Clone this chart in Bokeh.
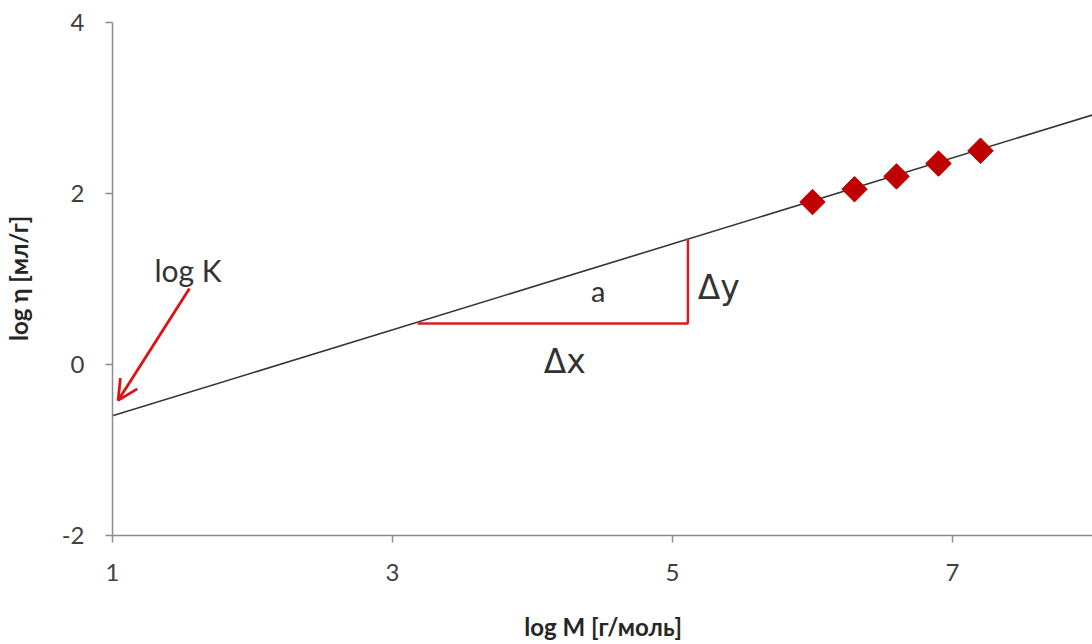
import math
from bokeh.plotting import figure
from bokeh.models import Range1d, Label, Arrow, OpenHead, FixedTicker
from bokeh.embed import file_html
from bokeh.resources import INLINE

# data
log_M = [6.0, 6.3, 6.6, 6.9, 7.2]
log_eta = [1.90, 2.05, 2.20, 2.35, 2.50]
fit_x = [1.0, 8.2]
fit_y = [-0.60, 3.02]
x_ticks = [1, 3, 5, 7]
y_ticks = [-2, 0, 2, 4]
tri_x = [3.18, 5.11, 5.11]
tri_y = [0.48, 0.48, 1.47]

p = figure(width=1092, height=644, output_backend="svg", toolbar_location=None,
           x_range=Range1d(1, 8.0), y_range=Range1d(-2, 4),
           min_border_left=109, min_border_right=0, min_border_top=22, min_border_bottom=109)
p.outline_line_color = None
p.xgrid.visible = False
p.ygrid.visible = False

for ax in (p.xaxis[0], p.yaxis[0]):
    ax.axis_line_color = "#8c8c8c"
    ax.axis_line_width = 1.5
    ax.major_tick_line_color = "#8c8c8c"
    ax.major_tick_line_width = 1.5
    ax.major_tick_out = 7
    ax.major_tick_in = 0
    ax.minor_tick_line_color = None
    ax.major_label_text_font = "Lato"
    ax.major_label_text_font_size = "24px"
    ax.major_label_text_color = "#404040"
    ax.axis_label_text_font = "Lato"
    ax.axis_label_text_font_style = "bold"
    ax.axis_label_text_font_size = "24px"
    ax.axis_label_text_color = "#262626"

p.xaxis.ticker = FixedTicker(ticks=x_ticks)
p.yaxis.ticker = FixedTicker(ticks=y_ticks)
p.yaxis.major_label_overrides = {-2: "-2"}
p.xaxis.major_label_standoff = 21
p.yaxis.major_label_standoff = 21
p.xaxis.axis_label = "log M [г/моль]"
p.yaxis.axis_label = "log η [мл/г]"
p.xaxis.axis_label_standoff = 28
p.yaxis.axis_label_standoff = 26

# fit line
p.line(fit_x, fit_y, line_color="#333333", line_width=1.6)

# triangle
p.line(tri_x, tri_y, line_color="#d42020", line_width=2.5)

# points
p.scatter(log_M, log_eta, marker="square", angle=math.pi / 4, size=18,
          fill_color="#c00000", line_color="#c00000")

# arrow
p.add_layout(Arrow(end=OpenHead(line_color="#e01010", line_width=2.8, size=20),
                   x_start=1.55, y_start=0.89, x_end=1.04, y_end=-0.42,
                   line_color="#e01010", line_width=2.8))

txt = dict(text_font="Lato", text_color="#333333", text_baseline="middle")
p.add_layout(Label(x=1.54, y=1.11, text="log K", text_font_size="30px", text_align="center", **txt))
p.add_layout(Label(x=4.47, y=0.87, text="a", text_font_size="29px", text_align="center", **txt))
p.add_layout(Label(x=5.33, y=0.90, text="Δy", text_font_size="33px", text_align="center",
                   text_font="DejaVu Sans", text_color="#333333", text_baseline="middle"))
p.add_layout(Label(x=4.23, y=0.04, text="Δx", text_font_size="33px", text_align="center",
                   text_font="DejaVu Sans", text_color="#333333", text_baseline="middle"))

open("out.html", "w").write(file_html(p, INLINE))
